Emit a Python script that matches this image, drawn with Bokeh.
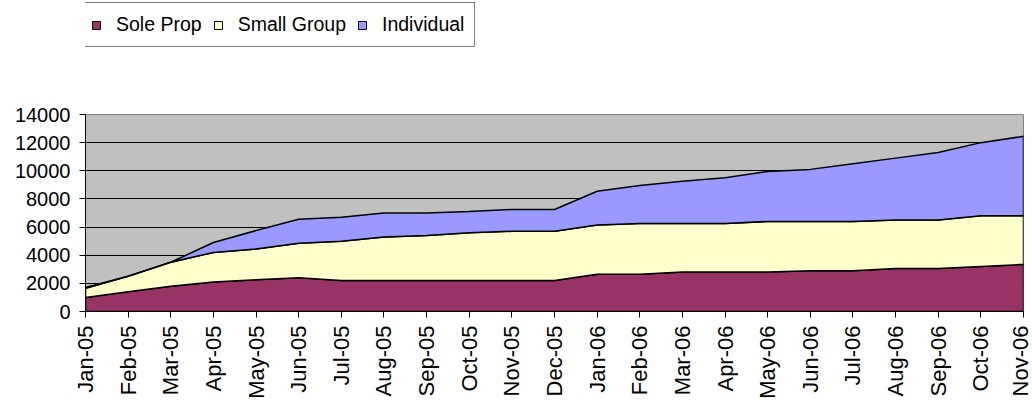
import numpy as np
from bokeh.plotting import figure
from bokeh.layouts import column
from bokeh.models import Legend, LegendItem, FixedTicker, Range1d
from bokeh.embed import file_html
from bokeh.resources import INLINE

months = ["Jan-05", "Feb-05", "Mar-05", "Apr-05", "May-05", "Jun-05", "Jul-05", "Aug-05",
          "Sep-05", "Oct-05", "Nov-05", "Dec-05", "Jan-06", "Feb-06", "Mar-06", "Apr-06",
          "May-06", "Jun-06", "Jul-06", "Aug-06", "Sep-06", "Oct-06", "Nov-06"]
sole_prop = [1000, 1400, 1800, 2100, 2250, 2400, 2200, 2200, 2200, 2200, 2200, 2200,
             2650, 2650, 2800, 2800, 2800, 2900, 2900, 3050, 3050, 3200, 3350]
small_group = [650, 1100, 1700, 2100, 2200, 2450, 2800, 3100, 3200, 3400, 3500, 3500,
               3500, 3600, 3450, 3450, 3600, 3500, 3500, 3450, 3450, 3600, 3450]
individual = [50, 0, 0, 700, 1300, 1700, 1700, 1700, 1600, 1500, 1550, 1550,
              2400, 2700, 3000, 3250, 3550, 3700, 4100, 4400, 4800, 5200, 5650]
series_names = ["Sole Prop", "Small Group", "Individual"]
colors = ["#993366", "#FFFFCC", "#9999FF"]
y_ticks = [0, 2000, 4000, 6000, 8000, 10000, 12000, 14000]

FONT = "Liberation Sans"
LEG_H = 100


def stacked_polygons():
    x = np.arange(len(months))
    lower = np.zeros(len(months))
    polys = []
    for vals in (sole_prop, small_group, individual):
        upper = lower + np.array(vals, dtype=float)
        polys.append((list(x) + list(x[::-1]), list(upper) + list(lower[::-1])))
        lower = upper
    return polys


polys = stacked_polygons()

# ---- main chart ----
p = figure(width=1032, height=401 - LEG_H, output_backend="svg", toolbar_location=None,
           x_range=Range1d(0, len(months) - 1), y_range=Range1d(0, 14000),
           min_border_left=85, min_border_right=9, min_border_top=14, min_border_bottom=87)
p.background_fill_color = "#C0C0C0"
p.border_fill_color = "white"
p.outline_line_color = "#808080"
p.outline_line_width = 1

for (xs, ys), col in zip(polys, colors):
    p.patch(xs, ys, fill_color=col, line_color="black", line_width=1.5)

p.xgrid.visible = False
p.ygrid.grid_line_color = "black"
p.ygrid.grid_line_width = 1

p.xaxis.ticker = FixedTicker(ticks=list(range(len(months))))
p.xaxis.major_label_overrides = {i: m for i, m in enumerate(months)}
p.xaxis.major_label_orientation = np.pi / 2
p.yaxis.ticker = FixedTicker(ticks=y_ticks)

for ax in (p.xaxis[0], p.yaxis[0]):
    ax.axis_line_color = "black"
    ax.axis_line_width = 1
    ax.major_tick_line_color = "black"
    ax.major_tick_out = 6
    ax.major_tick_in = 0
    ax.minor_tick_line_color = None
    ax.major_label_text_font = FONT
    ax.major_label_text_color = "black"
p.xaxis.major_label_text_font_size = "22px"
p.yaxis.major_label_text_font_size = "20px"
p.xaxis.major_label_standoff = 8
p.yaxis.major_label_standoff = 9

# ---- legend strip above the chart (series drawn out of view, only for legend glyphs) ----
leg = figure(width=1032, height=LEG_H, output_backend="svg", toolbar_location=None,
             x_range=Range1d(-200, -100), y_range=Range1d(0, 1),
             min_border=0, min_border_left=85, min_border_right=9,
             min_border_top=0, min_border_bottom=0)
leg.axis.visible = False
leg.grid.visible = False
leg.outline_line_color = None
leg.background_fill_color = "white"
leg.border_fill_color = "white"

items = []
for (xs, ys), name, col in zip(polys, series_names, colors):
    r = leg.patch(xs, ys, fill_color=col, line_color="black", line_width=1)
    items.append(LegendItem(label=name, renderers=[r]))

legend = Legend(items=items, orientation="horizontal", location=(-5, 53),
                glyph_width=10, glyph_height=10, label_standoff=15, spacing=11,
                padding=10, margin=0, border_line_color="black", border_line_width=1,
                background_fill_color="white", background_fill_alpha=1,
                label_text_font=FONT, label_text_font_size="19.5px", label_text_color="black")
leg.add_layout(legend, "center")

layout = column(leg, p, spacing=0)
open("out.html", "w").write(file_html(layout, INLINE))
